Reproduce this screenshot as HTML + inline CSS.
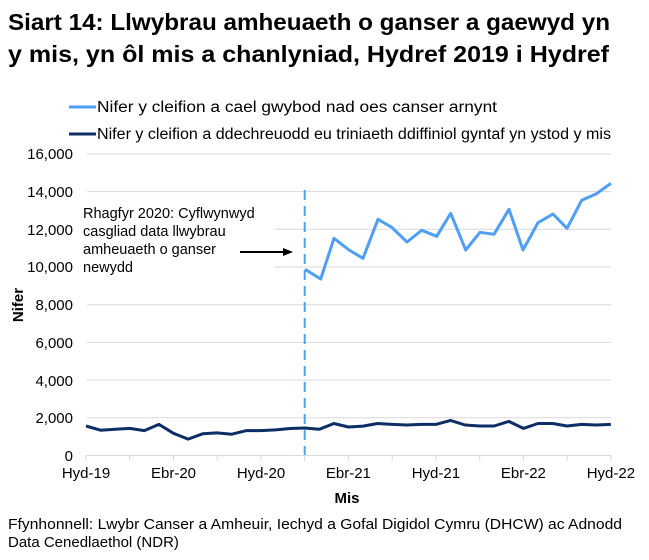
<!DOCTYPE html>
<html><head><meta charset="utf-8"><style>
body{margin:0;background:#fff;}
svg{display:block;font-family:"Liberation Sans",Arial,sans-serif;}
</style></head><body>
<svg width="649" height="560" xmlns="http://www.w3.org/2000/svg">
<text x="8" y="30" font-size="23" font-weight="bold" fill="#000" textLength="602" lengthAdjust="spacingAndGlyphs">Siart 14: Llwybrau amheuaeth o ganser a gaewyd yn</text>
<text x="8" y="62" font-size="23" font-weight="bold" fill="#000" textLength="601" lengthAdjust="spacingAndGlyphs">y mis, yn ôl mis a chanlyniad, Hydref 2019 i Hydref</text>
<line x1="69" y1="107" x2="96" y2="107" stroke="#4f9ef8" stroke-width="3"/>
<text x="97" y="112" font-size="15.5" fill="#000" textLength="400" lengthAdjust="spacingAndGlyphs">Nifer y cleifion a cael gwybod nad oes canser arnynt</text>
<line x1="69" y1="134" x2="96" y2="134" stroke="#0d2e64" stroke-width="3"/>
<text x="97" y="139" font-size="15.5" fill="#000" textLength="514" lengthAdjust="spacingAndGlyphs">Nifer y cleifion a ddechreuodd eu triniaeth ddiffiniol gyntaf yn ystod y mis</text>
<g stroke="#d9d9d9" stroke-width="1">
<line x1="87" y1="153.9" x2="611" y2="153.9"/>
<line x1="87" y1="191.6" x2="611" y2="191.6"/>
<line x1="275" y1="229.3" x2="611" y2="229.3"/>
<line x1="275" y1="267" x2="611" y2="267"/>
<line x1="87" y1="304.7" x2="611" y2="304.7"/>
<line x1="87" y1="342.4" x2="611" y2="342.4"/>
<line x1="87" y1="380.1" x2="611" y2="380.1"/>
<line x1="87" y1="417.8" x2="611" y2="417.8"/>
<line x1="86" y1="455.5" x2="611" y2="455.5"/>
<line x1="86" y1="455.5" x2="86" y2="461"/><line x1="129.7" y1="455.5" x2="129.7" y2="461"/><line x1="173.5" y1="455.5" x2="173.5" y2="461"/><line x1="217.2" y1="455.5" x2="217.2" y2="461"/><line x1="261" y1="455.5" x2="261" y2="461"/><line x1="304.7" y1="455.5" x2="304.7" y2="461"/><line x1="348.4" y1="455.5" x2="348.4" y2="461"/><line x1="392.2" y1="455.5" x2="392.2" y2="461"/><line x1="435.9" y1="455.5" x2="435.9" y2="461"/><line x1="479.7" y1="455.5" x2="479.7" y2="461"/><line x1="523.4" y1="455.5" x2="523.4" y2="461"/><line x1="567.1" y1="455.5" x2="567.1" y2="461"/><line x1="610.9" y1="455.5" x2="610.9" y2="461"/>
</g>
<g font-size="15" fill="#000" text-anchor="end">
<text x="73" y="159">16,000</text><text x="73" y="197">14,000</text><text x="73" y="235">12,000</text><text x="73" y="272">10,000</text><text x="73" y="310">8,000</text><text x="73" y="348">6,000</text><text x="73" y="386">4,000</text><text x="73" y="423">2,000</text><text x="73" y="461">0</text>
</g>
<g font-size="15" fill="#000" text-anchor="middle">
<text x="86" y="478">Hyd-19</text><text x="173.5" y="478">Ebr-20</text><text x="261" y="478">Hyd-20</text><text x="348.4" y="478">Ebr-21</text><text x="435.9" y="478">Hyd-21</text><text x="523.4" y="478">Ebr-22</text><text x="610.9" y="478">Hyd-22</text>
</g>
<text x="347" y="503" font-size="15" font-weight="bold" text-anchor="middle">Mis</text>
<text transform="translate(23,305) rotate(-90)" font-size="15" font-weight="bold" text-anchor="middle">Nifer</text>
<line x1="304.7" y1="190" x2="304.7" y2="455" stroke="#4f9ef8" stroke-width="2" stroke-dasharray="10,6"/>
<polyline fill="none" stroke="#0d2e64" stroke-width="3" stroke-linejoin="round" points="86,426 100.6,430.2 115.2,429.3 129.7,428.4 144.3,430.6 158.9,424.4 173.5,433.3 188.1,439.1 202.6,433.8 217.2,432.9 231.8,434.2 246.4,430.6 261,430.6 275.5,429.9 290.1,428.5 304.7,428 319.3,429.3 333.9,423.5 348.4,427 363,426.1 377.6,423.5 392.2,424.4 406.8,425 421.3,424.4 435.9,424.4 450.5,420.4 465.1,425 479.7,426 494.2,426 508.8,421.4 523.4,428.4 538,423.5 552.6,423.5 567.1,426 581.7,424.4 596.3,425 610.9,424.4"/>
<polyline fill="none" stroke="#4f9ef8" stroke-width="3" stroke-linejoin="round" points="305,269.3 320.7,279 334,238.3 349,250 363,258.3 378,219.3 391.7,227.3 407,242 421.7,230.3 436.7,236.3 450.7,213.3 465.7,250 480,232.3 494,234.3 509,209.3 523,250 538,222.7 553,214 567,228.3 581.7,200.3 596,194 611,183.3"/>
<g font-size="14.5" fill="#000">
<text x="83" y="218">Rhagfyr 2020: Cyflwynwyd</text>
<text x="83" y="236">casgliad data llwybrau</text>
<text x="83" y="254">amheuaeth o ganser</text>
<text x="83" y="272">newydd</text>
</g>
<line x1="240" y1="252" x2="284" y2="252" stroke="#000" stroke-width="2"/>
<polygon points="293,252 283,248 283,256" fill="#000"/>
<text x="8" y="529" font-size="15" fill="#000" textLength="614" lengthAdjust="spacingAndGlyphs">Ffynhonnell: Lwybr Canser a Amheuir, Iechyd a Gofal Digidol Cymru (DHCW) ac Adnodd</text>
<text x="8" y="547" font-size="15" fill="#000">Data Cenedlaethol (NDR)</text>
</svg>
</body></html>
